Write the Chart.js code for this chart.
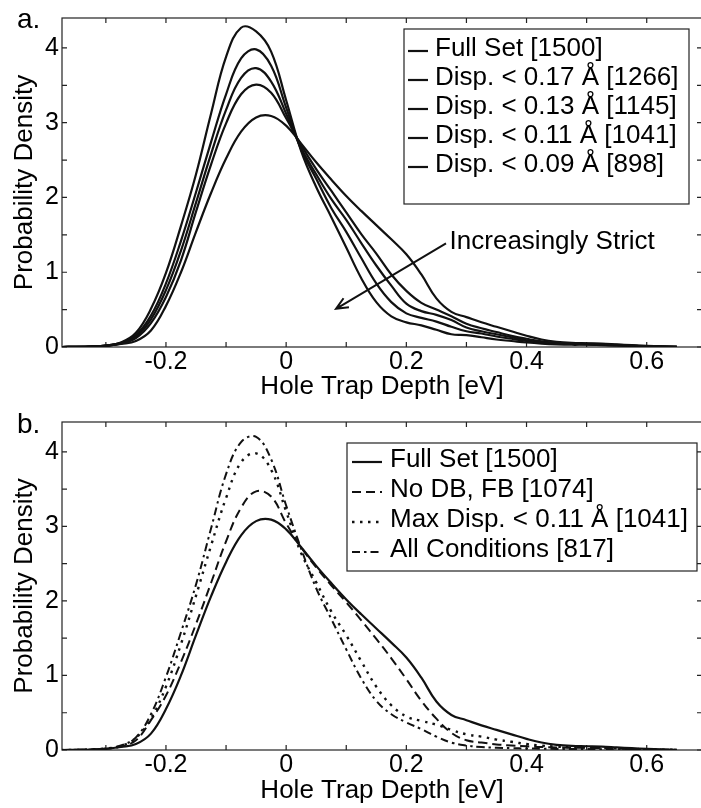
<!DOCTYPE html>
<html>
<head>
<meta charset="utf-8">
<title>Hole trap depth distributions</title>
<script src="https://cdn.jsdelivr.net/npm/chart.js@4.4.0/dist/chart.umd.min.js"></script>
<style>
  html, body { margin: 0; padding: 0; background: #fff; overflow: hidden; }
  #wrap { position: relative; width: 701px; height: 808px; overflow: hidden; }
  canvas { position: absolute; left: 0; }
  #chartA { top: 0; }
  #chartB { top: 404px; }
</style>
</head>
<body>
<div id="wrap">
  <canvas id="chartA" width="704" height="404"></canvas>
  <canvas id="chartB" width="704" height="404"></canvas>
</div>
<script>
// Hole trap depth sample points [eV]
const depth = [-0.375, -0.35, -0.325, -0.3, -0.275, -0.25, -0.225, -0.2, -0.175, -0.15, -0.125, -0.1, -0.075, -0.05, -0.025,
  0,
  0.025, 0.05, 0.075, 0.1, 0.125, 0.15, 0.175, 0.2, 0.225, 0.25, 0.275, 0.3, 0.325, 0.35, 0.375, 0.4, 0.425, 0.45, 0.475, 0.5,
  0.525, 0.55, 0.575, 0.6, 0.625, 0.65];

// Probability densities (KDE) for each subset
const fullSet = [0, 0.002, 0.006, 0.015, 0.04, 0.08, 0.22, 0.55, 1.00, 1.54, 2.06, 2.52, 2.88, 3.07, 3.09,
  2.96,
  2.72, 2.47, 2.24, 2.02, 1.82, 1.63, 1.44, 1.24, 0.97, 0.65, 0.47, 0.40, 0.33, 0.27, 0.21, 0.15, 0.10, 0.07, 0.055, 0.05,
  0.045, 0.035, 0.025, 0.015, 0.008, 0.003];
const dispLt017 = [0, 0.002, 0.006, 0.017, 0.045, 0.12, 0.32, 0.67, 1.16, 1.81, 2.44, 2.99, 3.38, 3.51, 3.40,
  3.06,
  2.70, 2.38, 2.09, 1.80, 1.51, 1.25, 0.97, 0.75, 0.59, 0.50, 0.41, 0.31, 0.25, 0.20, 0.15, 0.11, 0.075, 0.055, 0.05, 0.045,
  0.04, 0.03, 0.02, 0.012, 0.006, 0.002];
const dispLt013 = [0, 0.002, 0.006, 0.018, 0.05, 0.14, 0.37, 0.76, 1.29, 1.93, 2.58, 3.17, 3.60, 3.73, 3.55,
  3.12,
  2.66, 2.31, 1.98, 1.70, 1.39, 1.09, 0.82, 0.58, 0.48, 0.43, 0.36, 0.26, 0.21, 0.17, 0.13, 0.09, 0.065, 0.05, 0.045, 0.04,
  0.035, 0.025, 0.017, 0.01, 0.005, 0.002];
const dispLt011 = [0, 0.002, 0.007, 0.02, 0.055, 0.16, 0.42, 0.85, 1.42, 2.07, 2.74, 3.38, 3.86, 3.98, 3.76,
  3.20,
  2.64, 2.25, 1.86, 1.54, 1.19, 0.85, 0.60, 0.45, 0.39, 0.34, 0.27, 0.21, 0.18, 0.14, 0.11, 0.08, 0.06, 0.045, 0.04, 0.035,
  0.03, 0.022, 0.015, 0.01, 0.005, 0.002];
const dispLt009 = [0, 0.002, 0.008, 0.02, 0.06, 0.19, 0.51, 0.99, 1.62, 2.31, 3.12, 3.88, 4.27, 4.22, 3.95,
  3.30,
  2.62, 2.14, 1.74, 1.33, 0.92, 0.60, 0.41, 0.33, 0.29, 0.23, 0.17, 0.16, 0.13, 0.10, 0.08, 0.06, 0.045, 0.035, 0.03, 0.03,
  0.025, 0.02, 0.015, 0.01, 0.005, 0.002];
const noDbFb = [0, 0.002, 0.006, 0.016, 0.045, 0.13, 0.40, 0.73, 1.18, 1.69, 2.24, 2.80, 3.25, 3.47, 3.40,
  3.04,
  2.72, 2.45, 2.21, 1.98, 1.74, 1.49, 1.23, 0.95, 0.66, 0.42, 0.23, 0.13, 0.10, 0.075, 0.06, 0.05, 0.04, 0.035, 0.03, 0.03,
  0.025, 0.02, 0.015, 0.01, 0.005, 0.002];
const allConditions = [0, 0.002, 0.008, 0.02, 0.06, 0.17, 0.48, 0.98, 1.58, 2.22, 2.97, 3.70, 4.13, 4.20, 3.90,
  3.28,
  2.70, 2.17, 1.76, 1.35, 0.96, 0.66, 0.48, 0.37, 0.28, 0.18, 0.10, 0.06, 0.04, 0.03, 0.025, 0.02, 0.018, 0.015, 0.013, 0.012,
  0.01, 0.008, 0.005, 0.003, 0.001, 0];

const labelsA = ['Full Set [1500]', 'Disp. < 0.17 Å [1266]', 'Disp. < 0.13 Å [1145]',
  'Disp. < 0.11 Å [1041]', 'Disp. < 0.09 Å [898]'];
const labelsB = ['Full Set [1500]', 'No DB, FB [1074]', 'Max Disp. < 0.11 Å [1041]', 'All Conditions [817]'];

// Axis ticks
const xTickLabels = [-0.2, 0, 0.2, 0.4, 0.6];
const xTickMarks = [-0.3, -0.2, -0.1, 0, 0.1, 0.2, 0.3, 0.4, 0.5, 0.6];
const yTickLabels = [0, 1, 2, 3, 4];
const yTickMarks = [0, 0.5, 1, 1.5, 2, 2.5, 3, 3.5, 4];
const xMin = -0.373, xMax = 0.692, yMin = 0, yMax = 4.4;

Chart.defaults.font.family = '"Liberation Sans", Arial, Helvetica, sans-serif';
Chart.defaults.color = '#000';

function series(ys) {
  return depth.map((x, i) => ({ x: x, y: ys[i] }));
}

function line(label, ys, dash, width) {
  return {
    label: label,
    data: series(ys),
    borderColor: '#111',
    borderWidth: width || 2.2,
    borderDash: dash || [],
    pointRadius: 0,
    tension: 0.4,
    fill: false
  };
}

// Box with inward tick marks on all four sides (MATLAB style)
const framePlugin = {
  id: 'frame',
  beforeDatasetsDraw(chart, args, opts) {
    const { ctx, chartArea: a, scales } = chart;
    const len = opts.len;
    ctx.save();
    ctx.strokeStyle = '#222';
    ctx.lineWidth = 1.2;
    ctx.strokeRect(a.left, a.top, a.right - a.left, a.bottom - a.top);
    ctx.beginPath();
    xTickMarks.forEach(v => {
      const px = scales.x.getPixelForValue(v);
      ctx.moveTo(px, a.bottom); ctx.lineTo(px, a.bottom - len);
      ctx.moveTo(px, a.top); ctx.lineTo(px, a.top + len);
    });
    yTickMarks.forEach(v => {
      const py = scales.y.getPixelForValue(v);
      ctx.moveTo(a.left, py); ctx.lineTo(a.left + len, py);
      ctx.moveTo(a.right, py); ctx.lineTo(a.right - len, py);
    });
    ctx.stroke();
    ctx.restore();
  }
};

// Boxed legend drawn inside the plot area
const boxLegend = {
  id: 'boxLegend',
  afterDraw(chart, args, o) {
    const ctx = chart.ctx;
    ctx.save();
    ctx.fillStyle = '#fff';
    ctx.fillRect(o.left, o.top, o.width, o.height);
    ctx.strokeStyle = '#222';
    ctx.lineWidth = 1.2;
    ctx.strokeRect(o.left, o.top, o.width, o.height);
    ctx.font = '26px "Liberation Sans", Arial, sans-serif';
    ctx.textBaseline = 'middle';
    chart.data.datasets.forEach((ds, i) => {
      const cy = o.firstRow + i * o.rowGap;
      ctx.beginPath();
      ctx.setLineDash(ds.borderDash);
      ctx.lineWidth = ds.borderWidth;
      ctx.strokeStyle = ds.borderColor;
      ctx.moveTo(o.sampleX, cy + 2);
      ctx.lineTo(o.sampleX + o.sampleLen, cy + 2);
      ctx.stroke();
      ctx.setLineDash([]);
      ctx.fillStyle = '#000';
      ctx.fillText(ds.label, o.textX, cy);
    });
    ctx.restore();
  }
};

// Panel letter in the top-left corner
const panelLetter = {
  id: 'panelLetter',
  afterDraw(chart, args, o) {
    const ctx = chart.ctx;
    ctx.save();
    ctx.font = '28px "Liberation Sans", Arial, sans-serif';
    ctx.fillStyle = '#000';
    ctx.textBaseline = 'alphabetic';
    ctx.fillText(o.text, o.x, o.y);
    ctx.restore();
  }
};

// Arrow with caption, positioned in data coordinates
const arrowNote = {
  id: 'arrowNote',
  afterDatasetsDraw(chart, args, o) {
    if (!o.text) return;
    const { ctx, scales: { x, y } } = chart;
    const x0 = x.getPixelForValue(o.from[0]), y0 = y.getPixelForValue(o.from[1]);
    const x1 = x.getPixelForValue(o.to[0]), y1 = y.getPixelForValue(o.to[1]);
    const ang = Math.atan2(y1 - y0, x1 - x0);
    const head = 13, spread = 0.42;
    ctx.save();
    ctx.strokeStyle = '#111';
    ctx.lineWidth = 2;
    ctx.beginPath();
    ctx.moveTo(x0, y0);
    ctx.lineTo(x1, y1);
    ctx.moveTo(x1 - head * Math.cos(ang - spread), y1 - head * Math.sin(ang - spread));
    ctx.lineTo(x1, y1);
    ctx.lineTo(x1 - head * Math.cos(ang + spread), y1 - head * Math.sin(ang + spread));
    ctx.stroke();
    ctx.font = '26px "Liberation Sans", Arial, sans-serif';
    ctx.fillStyle = '#000';
    ctx.textBaseline = 'middle';
    ctx.fillText(o.text, x.getPixelForValue(o.at[0]), y.getPixelForValue(o.at[1]));
    ctx.restore();
  }
};

function makeOptions(pad, axisHeight, legend, letter, note) {
  return {
    responsive: false,
    animation: false,
    layout: { padding: { top: pad, right: 2, left: 0, bottom: 0 } },
    plugins: {
      legend: { display: false },
      tooltip: { enabled: false },
      frame: { len: 5 },
      boxLegend: legend,
      panelLetter: letter,
      arrowNote: note || {}
    },
    scales: {
      x: {
        type: 'linear',
        min: xMin,
        max: xMax,
        afterBuildTicks: s => { s.ticks = xTickLabels.map(v => ({ value: v })); },
        afterFit: s => { s.height = axisHeight; },
        grid: { display: false, drawTicks: false },
        border: { display: false },
        ticks: {
          font: { size: 25 },
          color: '#000',
          padding: 0,
          maxRotation: 0,
          autoSkip: false,
          callback: v => (v === 0 ? '0' : String(v))
        },
        title: {
          display: true,
          text: 'Hole Trap Depth [eV]',
          font: { size: 26 },
          color: '#000',
          padding: { top: 0, bottom: 2 }
        }
      },
      y: {
        type: 'linear',
        min: yMin,
        max: yMax,
        afterBuildTicks: s => { s.ticks = yTickLabels.map(v => ({ value: v })); },
        afterFit: s => { s.width = 62; },
        grid: { display: false, drawTicks: false },
        border: { display: false },
        ticks: { font: { size: 25 }, color: '#000', padding: 3, callback: v => String(v) },
        title: {
          display: true,
          text: 'Probability Density',
          font: { size: 26 },
          color: '#000',
          padding: { top: 9, bottom: 0 }
        }
      }
    }
  };
}

// Panel a: displacement cut-offs
new Chart(document.getElementById('chartA'), {
  type: 'line',
  data: {
    datasets: [
      line(labelsA[0], fullSet),
      line(labelsA[1], dispLt017),
      line(labelsA[2], dispLt013),
      line(labelsA[3], dispLt011),
      line(labelsA[4], dispLt009)
    ]
  },
  options: makeOptions(11, 57,
    { left: 404, top: 29, width: 285, height: 175, firstRow: 49, rowGap: 29, sampleX: 408, sampleLen: 20, textX: 435 },
    { text: 'a.', x: 17, y: 28 },
    { text: 'Increasingly Strict', from: [0.266, 1.386], to: [0.083, 0.51], at: [0.272, 1.41] }),
  plugins: [framePlugin, boxLegend, panelLetter, arrowNote]
});

// Panel b: combined selection criteria
new Chart(document.getElementById('chartB'), {
  type: 'line',
  data: {
    datasets: [
      line(labelsB[0], fullSet),
      line(labelsB[1], noDbFb, [9, 5], 2),
      line(labelsB[2], dispLt011, [2.5, 5.5], 2.4),
      line(labelsB[3], allConditions, [8, 4, 2.5, 4], 2)
    ]
  },
  options: makeOptions(13, 58,
    { left: 347, top: 39, width: 350, height: 128, firstRow: 56, rowGap: 30, sampleX: 352, sampleLen: 30, textX: 390 },
    { text: 'b.', x: 17, y: 29 }),
  plugins: [framePlugin, boxLegend, panelLetter, arrowNote]
});
</script>
</body>
</html>
